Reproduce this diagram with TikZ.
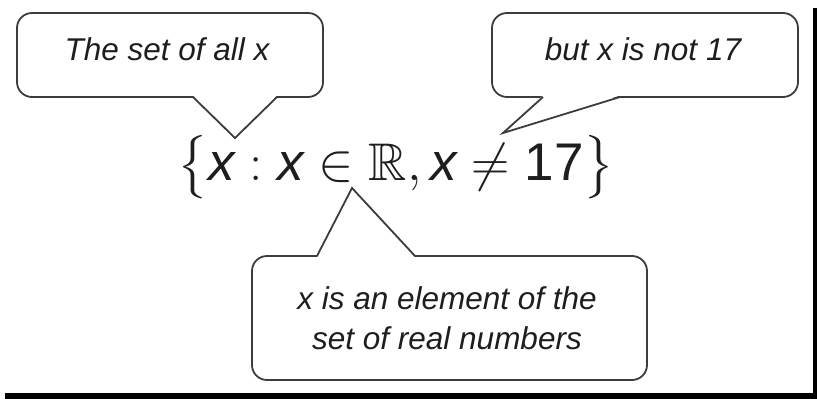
\RequirePackage{fix-cm}
\documentclass[tikz,border=0pt]{standalone}
\usepackage{amsmath,amssymb}
\usepackage{fontspec}
\setmainfont{Liberation Sans}
\begin{document}
\begin{tikzpicture}[x=1pt,y=-1pt,
  box/.style={draw=boxline,fill=white,line width=1.8pt,rounded corners=15pt,inner sep=0pt,outer sep=0pt},
  ptr/.style={draw=boxline,line width=1.8pt,line join=miter},
  lbl/.style={font=\fontsize{31.5}{40}\selectfont\itshape,text=txt,inner sep=0pt,align=center}]
\definecolor{boxline}{HTML}{3C3C3C}
\definecolor{txt}{HTML}{1E1E1E}
\useasboundingbox (0,0) rectangle (817,399);
\fill[white] (0,0) rectangle (817,399);
% page edges
\fill[black] (813,8) rectangle (817,399);
\fill[black] (5,393) rectangle (817,399);
% formula
\node[anchor=base,inner sep=0pt,text=txt] (f) at (396,180) {\fontsize{53}{60}\selectfont
  $\bigl\{\text{\itshape x}\mathrel{:}\text{\itshape x}\in\mathbb{R},\text{\itshape x}\neq\text{17}\bigr\}$};
% callout 1
\node[box,minimum width=306pt,minimum height=84pt] (c1) at (170,55) {};
\coordinate (a1) at (193,97); \coordinate (b1) at (277,97); \coordinate (t1) at (235,138);
\fill[white] ([yshift=1.5pt]a1) -- (t1) -- ([yshift=1.5pt]b1) -- cycle;
\draw[ptr] (a1) -- (t1) -- (b1);
\node[lbl] (l1) at (167,49) {The set of all x};
% callout 2
\node[box,minimum width=306pt,minimum height=84pt] (c2) at (645,55) {};
\coordinate (a2) at (543,97); \coordinate (b2) at (620,97); \coordinate (t2) at (503,133);
\fill[white] ([yshift=1.5pt]a2) -- (t2) -- ([yshift=1.5pt]b2) -- cycle;
\draw[ptr] (a2) -- (t2) -- (b2);
\node[lbl] (l2) at (643,49) {but x is not 17};
% callout 3
\node[box,minimum width=395pt,minimum height=124pt] (c3) at (449.5,318) {};
\coordinate (a3) at (317,256); \coordinate (b3) at (415,256); \coordinate (t3) at (352,188);
\fill[white] ([yshift=-1.5pt]a3) -- (t3) -- ([yshift=-1.5pt]b3) -- cycle;
\draw[ptr] (a3) -- (t3) -- (b3);
\node[lbl] (l3) at (447,318) {x is an element of the\\set of real numbers};
\end{tikzpicture}
\end{document}
